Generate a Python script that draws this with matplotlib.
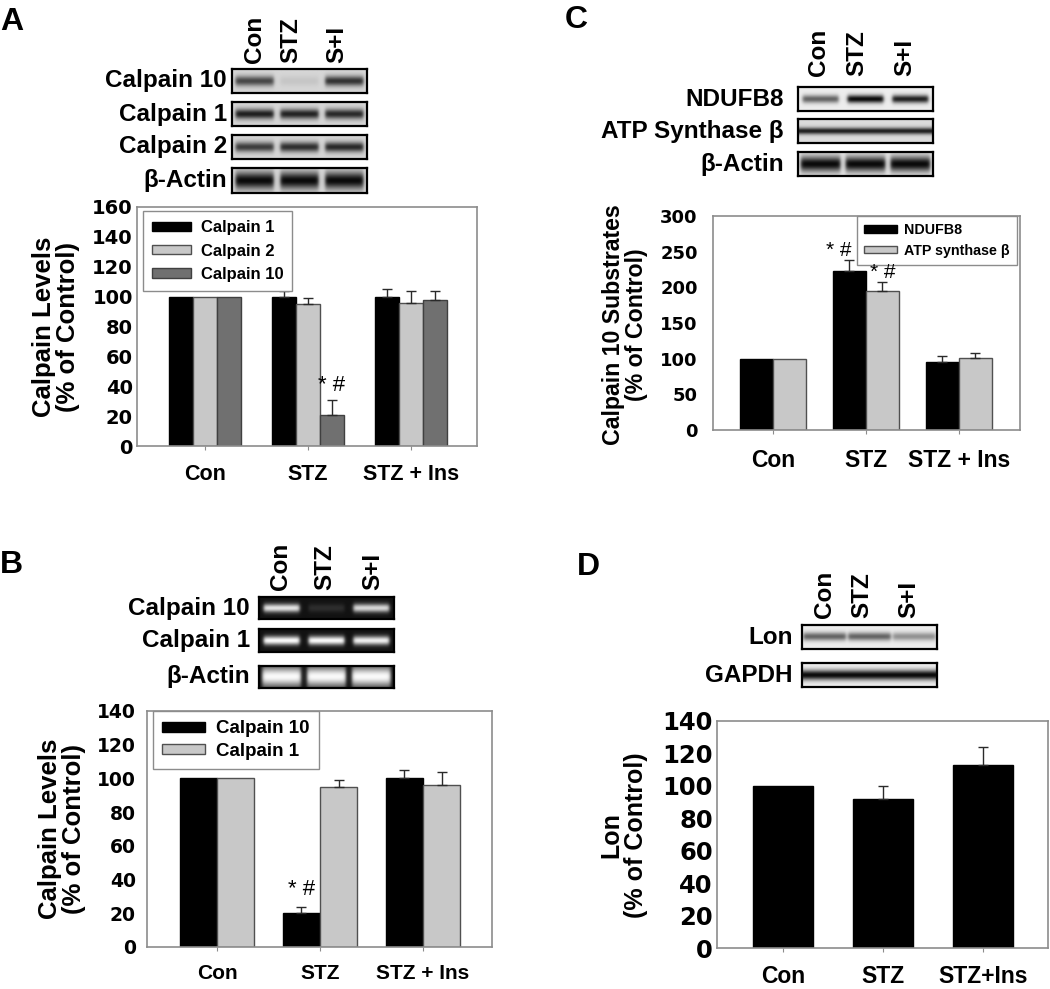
import numpy as np
import matplotlib
matplotlib.use('Agg')
import matplotlib.pyplot as plt
from matplotlib.patches import Patch

W, H = 1050, 989

# ---------------- data ----------------
groups = ['Con', 'STZ', 'STZ + Ins']
groups_D = ['Con', 'STZ', 'STZ+Ins']
lanes = ['Con', 'STZ', 'S+I']

# Panel A
a_labels = ['Calpain 1', 'Calpain 2', 'Calpain 10']
a_calpain1 = [100, 100, 100]
a_calpain1_err = [0, 4, 5]
a_calpain2 = [100, 95, 96]
a_calpain2_err = [0, 4, 8]
a_calpain10 = [100, 21, 98]
a_calpain10_err = [0, 10, 6]

# Panel B
b_labels = ['Calpain 10', 'Calpain 1']
b_calpain10 = [100, 20, 100]
b_calpain10_err = [0, 4, 5]
b_calpain1 = [100, 95, 96]
b_calpain1_err = [0, 4, 8]

# Panel C
c_labels = ['NDUFB8', 'ATP synthase \u03b2']
c_ndufb8 = [100, 223, 95]
c_ndufb8_err = [0, 15, 9]
c_atp = [100, 195, 101]
c_atp_err = [0, 12, 7]

# Panel D
d_lon = [100, 92, 113]
d_lon_err = [0, 8, 11]

# Blot rows and band intensities (relative, per lane)
blotA_rows = ['Calpain 10', 'Calpain 1', 'Calpain 2', '\u03b2-Actin']
blotA_int = [[0.7, 0.08, 0.8], [0.9, 0.88, 0.85], [0.75, 0.82, 0.85], [1.0, 1.0, 1.0]]
blotB_rows = ['Calpain 10', 'Calpain 1', '\u03b2-Actin']
blotB_int = [[0.9, 0.12, 0.85], [1.0, 1.0, 0.95], [1.0, 1.0, 1.0]]
blotC_rows = ['NDUFB8', 'ATP Synthase \u03b2', '\u03b2-Actin']
blotC_int = [[0.6, 1.0, 0.9], [0.9, 0.9, 0.9], [1.0, 1.0, 1.0]]
blotD_rows = ['Lon', 'GAPDH']
blotD_int = [[0.6, 0.6, 0.4], [1.0, 1.0, 1.0]]

# ---------------- style ----------------
ARIAL = 'Liberation Sans'
DIG = 'DejaVu Sans'
BLACK = '#000000'
LGRAY = '#c8c8c8'
DGRAY = '#707070'
SPINE = '#8c8c8c'

fig = plt.figure(figsize=(W / 100, H / 100), dpi=100)


def box(l, t, r, b):
    return [l / W, 1 - b / H, (r - l) / W, (b - t) / H]


def fx(x):
    return x / W


def fy(y):
    return 1 - y / H


def blot_image(intens, dark=False, full=False, sigma=0.17, lane_w=0.8, bg=0.86,
               nx=300, ny=60, floor=0.04):
    x = np.linspace(0, 1, nx)
    y = np.linspace(0, 1, ny)
    img = np.full((ny, nx), bg)
    n = len(intens)
    py = np.exp(-0.5 * ((y - 0.5) / sigma) ** 2)
    if full:
        px = 0.5 * (np.tanh((x + 0.02) * 70) - np.tanh((x - 1.02) * 70))
        band = float(np.mean(intens)) * np.outer(py, px)
    else:
        band = np.zeros((ny, nx))
        for i, v in enumerate(intens):
            c = (i + 0.5) / n
            lo, hi = c - lane_w / (2 * n), c + lane_w / (2 * n)
            px = 0.5 * (np.tanh((x - lo) * 70) - np.tanh((x - hi) * 70))
            band = band + v * np.outer(py, px)
    band = np.clip(band, 0, 1)
    if dark:
        img = img + band * (0.98 - bg)
    else:
        img = img - band * (bg - floor)
    return np.clip(img, 0, 1)


def draw_blot(rect, img):
    ax = fig.add_axes(rect)
    ax.imshow(img, cmap='gray', vmin=0, vmax=1, aspect='auto', interpolation='bilinear')
    ax.set_xticks([])
    ax.set_yticks([])
    for s in ax.spines.values():
        s.set_linewidth(1.6)
        s.set_color('black')
    return ax


def lane_labels(xs, bottom, size=17.5):
    for x, lab in zip(xs, lanes):
        fig.text(fx(x), fy(bottom), lab, rotation=90, ha='center', va='bottom',
                 fontsize=size, fontweight='bold', family=ARIAL)


def row_labels(right, ys, rows, size=17.5):
    for y, lab in zip(ys, rows):
        fig.text(fx(right), fy(y), lab, ha='right', va='center',
                 fontsize=size, fontweight='bold', family=ARIAL)


def style_axes(ax, ylim, yticks, xlim, xlabels, ysize, xsize, ypad, xpad):
    ax.set_ylim(*ylim)
    ax.set_xlim(*xlim)
    ax.set_yticks(yticks)
    ax.set_yticklabels([str(t) for t in yticks], fontsize=ysize, fontweight='bold', family=DIG)
    ax.set_xticks(range(len(xlabels)))
    ax.set_xticklabels(xlabels, fontsize=xsize, fontweight='bold', family=ARIAL)
    ax.tick_params(axis='y', length=0, pad=ypad)
    ax.tick_params(axis='x', length=3, color=SPINE, pad=xpad)
    for s in ax.spines.values():
        s.set_color(SPINE)
        s.set_linewidth(1.2)


def bars(ax, x, vals, errs, w, color, edge):
    ax.bar(x, vals, width=w, color=color, edgecolor=edge, linewidth=1.0, zorder=2)
    xe = [xi for xi, e in zip(x, errs) if e > 0]
    ve = [v for v, e in zip(vals, errs) if e > 0]
    ee = [e for e in errs if e > 0]
    ax.errorbar(xe, ve, yerr=[np.zeros(len(ee)), ee], fmt='none', ecolor='#2a2a2a',
                elinewidth=1.0, capsize=3.5, capthick=1.0, zorder=3)


def star(ax, x, y, dy=2, size=16):
    ax.annotate('* #', (x, y), xytext=(0, dy), textcoords='offset points', ha='center',
                va='bottom', fontsize=size, family=ARIAL, zorder=10)


def ylabel(x, y, text, size):
    fig.text(fx(x), fy(y), text, rotation=90, ha='center', va='center', fontsize=size,
             fontweight='bold', family=ARIAL, multialignment='center', linespacing=1.05)


def panel_letter(x, y, t):
    fig.text(fx(x), fy(y), t, ha='left', va='top', fontsize=23, fontweight='bold', family=ARIAL)


# ---------------- Panel A ----------------
panel_letter(0, 7, 'A')
lane_labels([254, 291, 337], 63)
row_labels(227, [81, 114, 147, 180], blotA_rows)
rowsA = [(69, 93), (102, 126), (135, 159), (168, 193)]
for i, ((t, b), it) in enumerate(zip(rowsA, blotA_int)):
    sig = 0.24 if i == 3 else 0.15
    draw_blot(box(232, t, 367, b), blot_image(it, sigma=sig, bg=0.84, lane_w=0.85))

axA = fig.add_axes(box(137, 207, 477, 446))
x = np.arange(3)
wA = 0.233
bars(axA, x - wA, a_calpain1, a_calpain1_err, wA, BLACK, BLACK)
bars(axA, x, a_calpain2, a_calpain2_err, wA, LGRAY, '#505050')
bars(axA, x + wA, a_calpain10, a_calpain10_err, wA, DGRAY, '#404040')
style_axes(axA, (0, 160), list(range(0, 161, 20)), (-0.66, 2.64), groups, 14, 15.5, 3, 10)
star(axA, 1 + wA, a_calpain10[1] + a_calpain10_err[1], 3)
axA.legend(handles=[Patch(facecolor=BLACK, edgecolor=BLACK),
                    Patch(facecolor=LGRAY, edgecolor='#505050'),
                    Patch(facecolor=DGRAY, edgecolor='#404040')],
           labels=a_labels, loc='upper left', bbox_to_anchor=(0.018, 0.983), borderaxespad=0,
           fancybox=False, edgecolor=SPINE, framealpha=1,
           prop={'family': ARIAL, 'weight': 'bold', 'size': 12},
           handlelength=2.3, handleheight=0.5, handletextpad=0.6, labelspacing=0.5,
           borderpad=0.55)
ylabel(56, 327, 'Calpain Levels\n(% of Control)', 18.5)

# ---------------- Panel B ----------------
panel_letter(0, 550, 'B')
lane_labels([280, 325, 373], 590)
row_labels(250, [608, 640, 677], blotB_rows)
rowsB = [(597, 619), (629, 652), (666, 688)]
for i, ((t, b), it) in enumerate(zip(rowsB, blotB_int)):
    if i == 2:
        img = blot_image(it, dark=True, sigma=0.32, lane_w=0.86, bg=0.08)
    else:
        img = blot_image(it, dark=True, sigma=0.14, bg=0.07)
    draw_blot(box(259, t, 394, b), img)

axB = fig.add_axes(box(147, 711, 492, 947))
wB = 0.36
bars(axB, x - wB / 2, b_calpain10, b_calpain10_err, wB, BLACK, BLACK)
bars(axB, x + wB / 2, b_calpain1, b_calpain1_err, wB, LGRAY, '#505050')
style_axes(axB, (0, 140), list(range(0, 141, 20)), (-0.68, 2.67), groups, 13.5, 15, 8, 9)
star(axB, 1 - wB / 2, b_calpain10[1] + b_calpain10_err[1], 5)
axB.legend(handles=[Patch(facecolor=BLACK, edgecolor=BLACK),
                    Patch(facecolor=LGRAY, edgecolor='#505050')],
           labels=b_labels, loc='upper left', bbox_to_anchor=(0.017, 1.0), borderaxespad=0,
           fancybox=False, edgecolor=SPINE, framealpha=1,
           prop={'family': ARIAL, 'weight': 'bold', 'size': 13.5},
           handlelength=2.3, handleheight=0.45, handletextpad=0.55, labelspacing=0.3,
           borderpad=0.5)
ylabel(62, 829, 'Calpain Levels\n(% of Control)', 18.5)

# ---------------- Panel C ----------------
panel_letter(565, 5, 'C')
lane_labels([819, 857, 905], 76)
row_labels(784, [99, 131, 164], blotC_rows)
rowsC = [(87, 111), (119, 143), (152, 176)]
for i, ((t, b), it) in enumerate(zip(rowsC, blotC_int)):
    if i == 1:
        img = blot_image(it, full=True, sigma=0.1, bg=0.86)
    elif i == 2:
        img = blot_image(it, sigma=0.22, bg=0.88, lane_w=0.88)
    else:
        img = blot_image(it, sigma=0.12, bg=0.93)
    draw_blot(box(798, t, 933, b), img)

axC = fig.add_axes(box(713, 216, 1020, 430))
wC = 0.355
bars(axC, x - wC / 2, c_ndufb8, c_ndufb8_err, wC, BLACK, BLACK)
bars(axC, x + wC / 2, c_atp, c_atp_err, wC, LGRAY, '#505050')
style_axes(axC, (0, 300), list(range(0, 301, 50)), (-0.645, 2.656), groups, 13, 16.5, 11, 11)
star(axC, 1 - wC / 2 - 0.12, c_ndufb8[1] + c_ndufb8_err[1], 0, 15)
star(axC, 1 + wC / 2, c_atp[1] + c_atp_err[1], 0, 15)
axC.legend(handles=[Patch(facecolor=BLACK, edgecolor=BLACK),
                    Patch(facecolor=LGRAY, edgecolor='#505050')],
           labels=c_labels, loc='upper right', bbox_to_anchor=(0.99, 1.0), borderaxespad=0,
           fancybox=False, edgecolor=SPINE, framealpha=1,
           prop={'family': ARIAL, 'weight': 'bold', 'size': 10.3},
           handlelength=2.3, handleheight=0.45, handletextpad=0.5, labelspacing=0.45,
           borderpad=0.5)
ylabel(625, 325, 'Calpain 10 Substrates\n(% of Control)', 16.7)

# ---------------- Panel D ----------------
panel_letter(577, 552, 'D')
lane_labels([824, 862, 909], 618)
row_labels(793, [637, 675], blotD_rows)
draw_blot(box(802, 625, 937, 649), blot_image(blotD_int[0], sigma=0.12, bg=0.93, lane_w=0.95))
draw_blot(box(802, 663, 937, 687), blot_image(blotD_int[1], full=True, sigma=0.15, bg=0.94))

axD = fig.add_axes(box(717, 721, 1048, 948))
bars(axD, x, d_lon, d_lon_err, 0.6, BLACK, BLACK)
style_axes(axD, (0, 140), list(range(0, 141, 20)), (-0.66, 2.65), groups_D, 17.5, 16.5, 3, 9)
ylabel(624, 835, 'Lon\n(% of Control)', 18)

fig.savefig('out.png', dpi=100, facecolor='white')
